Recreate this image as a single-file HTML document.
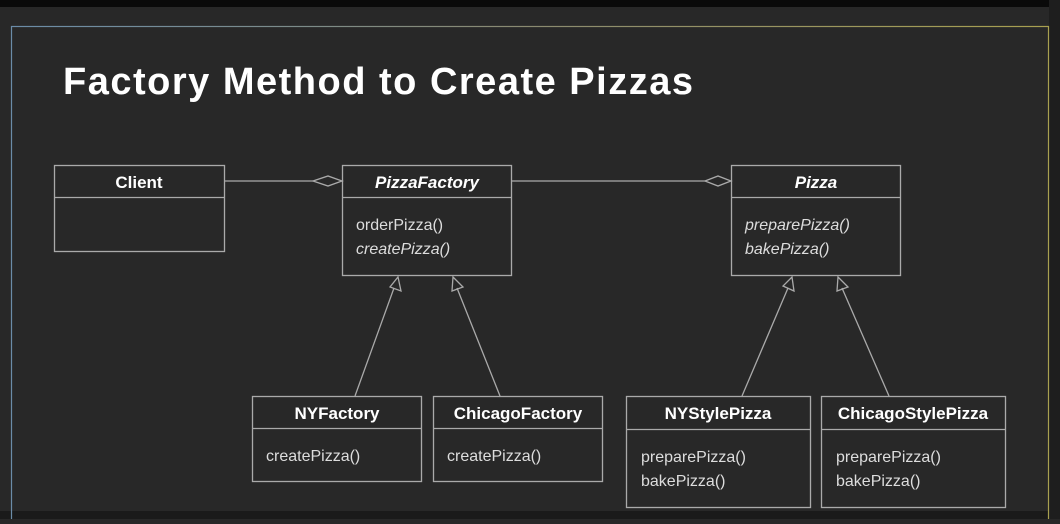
<!DOCTYPE html>
<html><head><style>
body{margin:0;width:1060px;height:519px;background:#282828;overflow:hidden;font-family:"Liberation Sans",sans-serif}
</style></head><body>
<svg width="1060" height="519" viewBox="0 0 1060 519" xmlns="http://www.w3.org/2000/svg">
<defs><linearGradient id="g" x1="0" x2="1"><stop offset="0" stop-color="#6b8ca8"/><stop offset="0.5" stop-color="#8a8a70"/><stop offset="1" stop-color="#a8a050"/></linearGradient></defs>
<rect width="1060" height="519" fill="#282828"/>
<rect width="1060" height="7" fill="#0a0a0a"/>
<rect y="511" width="1060" height="8" fill="#1a1a1a"/>
<rect x="1049" y="0" width="11" height="519" fill="#1e1e1e"/>
<rect x="11.5" y="26.5" width="1037" height="500" fill="none" stroke="url(#g)" stroke-width="1.2"/>
<text x="63" y="94" fill="#fff" font-size="38" font-weight="bold" textLength="630" lengthAdjust="spacing">Factory Method to Create Pizzas</text>
<g fill="none" stroke="#aaa" stroke-width="1.3">
<rect x="54.5" y="165.5" width="170" height="86"/><line x1="54" y1="197.5" x2="224" y2="197.5"/>
<rect x="342.5" y="165.5" width="169" height="110"/><line x1="342" y1="197.5" x2="511" y2="197.5"/>
<rect x="731.5" y="165.5" width="169" height="110"/><line x1="731" y1="197.5" x2="900" y2="197.5"/>
<rect x="252.5" y="396.5" width="169" height="85"/><line x1="252" y1="428.5" x2="421" y2="428.5"/>
<rect x="433.5" y="396.5" width="169" height="85"/><line x1="433" y1="428.5" x2="602" y2="428.5"/>
<rect x="626.5" y="396.5" width="184" height="111"/><line x1="626" y1="429.5" x2="810" y2="429.5"/>
<rect x="821.5" y="396.5" width="184" height="111"/><line x1="821" y1="429.5" x2="1005" y2="429.5"/>
<line x1="224" y1="181" x2="313" y2="181"/><polygon points="313,181 328,176 342,181 328,186"/>
<line x1="511" y1="181" x2="705" y2="181"/><polygon points="705,181 718,176 731,181 718,186"/>
<line x1="355" y1="396" x2="394" y2="288"/><polygon points="398,277 401,291 390,287"/>
<line x1="500" y1="396" x2="457" y2="288"/><polygon points="453,277 463,287 452,291"/>
<line x1="742" y1="396" x2="788" y2="288"/><polygon points="792,277 794,291 783,286"/>
<line x1="889" y1="396" x2="842" y2="288"/><polygon points="838,277 848,287 837,291"/>
</g>
<g fill="#fff" font-size="17">
<text x="139" y="188" text-anchor="middle" font-weight="bold">Client</text>
<text x="427" y="188" text-anchor="middle" font-weight="bold" font-style="italic">PizzaFactory</text>
<text x="816" y="188" text-anchor="middle" font-weight="bold" font-style="italic">Pizza</text>
<text x="337" y="419" text-anchor="middle" font-weight="bold">NYFactory</text>
<text x="518" y="419" text-anchor="middle" font-weight="bold">ChicagoFactory</text>
<text x="718" y="419" text-anchor="middle" font-weight="bold">NYStylePizza</text>
<text x="913" y="419" text-anchor="middle" font-weight="bold">ChicagoStylePizza</text>
</g>
<g fill="#ddd" font-size="16">
<text x="356" y="230">orderPizza()</text>
<text x="356" y="254" font-style="italic">createPizza()</text>
<text x="745" y="230" font-style="italic">preparePizza()</text>
<text x="745" y="254" font-style="italic">bakePizza()</text>
<text x="266" y="461">createPizza()</text>
<text x="447" y="461">createPizza()</text>
<text x="641" y="462">preparePizza()</text>
<text x="641" y="486">bakePizza()</text>
<text x="836" y="462">preparePizza()</text>
<text x="836" y="486">bakePizza()</text>
</g>
</svg>
</body></html>
